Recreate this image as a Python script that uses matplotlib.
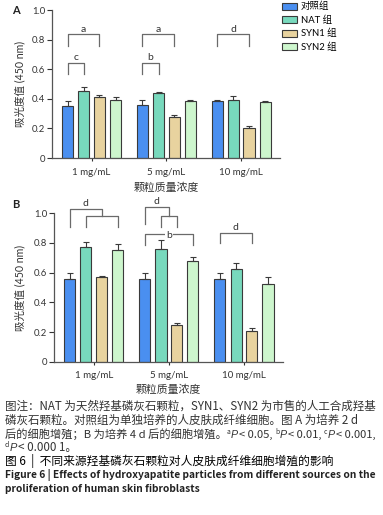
import matplotlib
matplotlib.use('Agg')
import matplotlib.pyplot as plt
import numpy as np

plt.rcParams['font.family'] = ['Lato', 'Noto Sans CJK SC', 'DejaVu Sans']

# ---------------- data ----------------
groups = ['1 mg/mL', '5 mg/mL', '10 mg/mL']
series = ['对照组', 'NAT 组', 'SYN1 组', 'SYN2 组']
colors = ['#4a8ff0', '#78d9bd', '#e8d39f', '#cdf6cd']

A_ctrl = [0.350, 0.355, 0.388]
A_nat = [0.454, 0.442, 0.395]
A_syn1 = [0.413, 0.278, 0.205]
A_syn2 = [0.390, 0.388, 0.380]
A_ctrl_err = [0.038, 0.034, 0.002]
A_nat_err = [0.028, 0.003, 0.024]
A_syn1_err = [0.015, 0.010, 0.009]
A_syn2_err = [0.020, 0.003, 0.004]

B_ctrl = [0.556, 0.556, 0.556]
B_nat = [0.771, 0.757, 0.627]
B_syn1 = [0.572, 0.250, 0.209]
B_syn2 = [0.755, 0.676, 0.521]
B_ctrl_err = [0.040, 0.040, 0.040]
B_nat_err = [0.036, 0.065, 0.036]
B_syn1_err = [0.008, 0.014, 0.016]
B_syn2_err = [0.036, 0.027, 0.047]

y_ticks = [0, 0.2, 0.4, 0.6, 0.8, 1.0]
y_ticklabels = ['0', '0.2', '0.4', '0.6', '0.8', '1.0']
y_label = '吸光度值 (450 nm)'
x_label = '颗粒质量浓度'

# significance brackets: (group, bar_i, bar_j, height, label)
A_brackets = [(0, 0, 2, 0.835, 'a'), (0, 0, 1, 0.643, 'c'),
              (1, 0, 2, 0.835, 'a'), (1, 0, 1, 0.643, 'b'),
              (2, 0, 2, 0.835, 'd')]
# nested brackets in B: (group, upper_from_bar, lower_i, lower_j, upper_y, lower_y, label)
B_nested = [(0, 0, 1, 3, 1.030, 0.984, 'd'),
            (1, 0, 1, 2, 1.045, 0.984, 'd')]
B_brackets = [(1, 0, 3, 0.858, 'b'), (2, 0, 2, 0.870, 'd')]

W, H = 383, 515
fig = plt.figure(figsize=(W / 100, H / 100), dpi=100)
fig.patch.set_facecolor('white')

offsets = [-0.32, -0.105, 0.105, 0.32]
width = 0.148
EDGE = '#3a3a3a'
BR = '#6a6a6a'


def draw_panel(ax, vals, errs):
    x = np.arange(len(groups))
    handles = []
    for i in range(4):
        h = ax.bar(x + offsets[i], vals[i], width, color=colors[i], edgecolor=EDGE,
                   linewidth=0.8, zorder=2, label=series[i])
        ax.errorbar(x + offsets[i], vals[i], yerr=[np.zeros(len(x)), errs[i]], fmt='none',
                    ecolor=EDGE, elinewidth=0.8, capsize=2.4, capthick=0.8, zorder=3)
        handles.append(h)
    ax.set_xlim(-0.53, 2.52)
    ax.set_ylim(0, 1.0)
    ax.set_yticks(y_ticks)
    ax.set_yticklabels(y_ticklabels)
    ax.set_xticks(x)
    ax.set_xticklabels(groups)
    for s in ['top', 'right']:
        ax.spines[s].set_visible(False)
    for s in ['left', 'bottom']:
        ax.spines[s].set_color('#555555')
        ax.spines[s].set_linewidth(0.9)
    ax.tick_params(axis='y', length=3.5, width=0.8, pad=1.2, labelsize=6.8, colors='#333333')
    ax.tick_params(axis='x', length=2.5, width=0.8, pad=4.5, labelsize=7.0, colors='#333333')
    ax.set_ylabel(y_label, fontsize=7.6, color='#333333')
    ax.set_xlabel(x_label, fontsize=7.8, color='#333333')
    return handles


def bar_x(g, i):
    return g + offsets[i]


def bracket(ax, x1, x2, y, y1, y2, label=None, gap=False):
    ax.plot([x1, x1, x2, x2], [y1, y, y, y2], color=BR, lw=0.9, clip_on=False, zorder=4)
    if label:
        if gap:
            ax.text((x1 + x2) / 2, y - 0.005, label, ha='center', va='center', fontsize=7.5,
                    color='#333333', clip_on=False, zorder=5,
                    bbox=dict(facecolor='white', edgecolor='none', pad=0.6))
        else:
            ax.text((x1 + x2) / 2, y + 0.016, label, ha='center', va='baseline', fontsize=7.5,
                    color='#333333', clip_on=False, zorder=5)


# ---------------- panel A ----------------
axA = fig.add_axes([52 / W, 1 - 158 / H, 228 / W, 148 / H])
hA = draw_panel(axA, [A_ctrl, A_nat, A_syn1, A_syn2],
                [A_ctrl_err, A_nat_err, A_syn1_err, A_syn2_err])
axA.yaxis.set_label_coords(-0.118, 0.5)
axA.xaxis.set_label_coords(0.5, -0.165)
for g, i, j, y, lab in A_brackets:
    bracket(axA, bar_x(g, i), bar_x(g, j), y, y - 0.078, y - 0.078, lab)

# ---------------- panel B ----------------
axB = fig.add_axes([54 / W, 1 - 361.7 / H, 229 / W, 148.4 / H])
draw_panel(axB, [B_ctrl, B_nat, B_syn1, B_syn2],
           [B_ctrl_err, B_nat_err, B_syn1_err, B_syn2_err])
axB.yaxis.set_label_coords(-0.125, 0.5)
axB.xaxis.set_label_coords(0.5, -0.15)
for g, u, li, lj, uy, ly, lab in B_nested:
    lx1, lx2 = bar_x(g, li), bar_x(g, lj)
    bracket(axB, lx1, lx2, ly, ly - 0.075, ly - 0.075)
    ux1, ux2 = bar_x(g, u), (lx1 + lx2) / 2
    bracket(axB, ux1, ux2, uy, uy - 0.12, ly, lab)
for g, i, j, y, lab in B_brackets:
    bracket(axB, bar_x(g, i), bar_x(g, j), y, y - 0.072, y - 0.072, lab, gap=(lab == 'b'))

# panel letters
fig.text(12 / W, 1 - 10 / H, 'A', fontsize=8, fontweight='bold', va='center', ha='left', color='#222222')
fig.text(12 / W, 1 - 205 / H, 'B', fontsize=8, fontweight='bold', va='center', ha='left', color='#222222')

# legend
fig.legend(handles=hA, labels=series, loc='upper left', bbox_to_anchor=(282 / W, 1 - 2 / H),
           frameon=False, prop={'family': ['Lato', 'Noto Sans CJK SC'], 'size': 6.8},
           handlelength=1.55, handleheight=0.75, labelspacing=0.42, handletextpad=0.45,
           borderpad=0, borderaxespad=0)

# ---------------- caption ----------------
renderer = fig.canvas.get_renderer()
CJK = ['Noto Sans CJK SC', 'DejaVu Sans']
CAP = '#333333'


def fit_size(text, target_px, **kw):
    t = fig.text(0, 0, text, fontsize=10, **kw)
    w = t.get_window_extent(renderer).width
    t.remove()
    return 10 * target_px / w


def seg_line(x_px, base_px, segs, max_w=None):
    scale = 1.0
    tries = 5
    for k in range(tries):
        x = x_px
        made = []
        for s in segs:
            kw = dict(s.get('kw', {}))
            kw['fontsize'] = kw['fontsize'] * scale
            x += s.get('pre', 0) * scale
            t = fig.text(x / W, 1 - (base_px - s.get('dy', 0) * scale) / H, s['t'],
                         ha='left', va='baseline', **kw)
            made.append(t)
            x += t.get_window_extent(renderer).width + s.get('post', 0) * scale
        total = x - x_px
        if max_w is None or total <= max_w or k == tries - 1:
            return
        for t in made:
            t.remove()
        scale *= (max_w / total) * 0.995


line1 = '图注：NAT 为天然羟基磷灰石颗粒，SYN1、SYN2 为市售的人工合成羟基'
fs = min(fit_size(line1, 372, family=CJK), 8.6)
base = dict(family=CJK, fontsize=fs, color=CAP)
sup = dict(family=CJK, fontsize=fs * 0.6, color=CAP)
ital = dict(family=['Liberation Sans'], style='italic', fontsize=fs * 0.95, color=CAP)

fig.text(5 / W, 1 - 410 / H, line1, ha='left', va='baseline', **base)
fig.text(5 / W, 1 - 424 / H, '磷灰石颗粒。对照组为单独培养的人皮肤成纤维细胞。图 A 为培养 2 d',
         ha='left', va='baseline', **base)
seg_line(5, 437.5, [
    {'t': '后的细胞增殖；B 为培养 4 d 后的细胞增殖。', 'kw': base},
    {'t': 'a', 'kw': sup, 'dy': 4},
    {'t': 'P', 'kw': ital, 'post': 1.5},
    {'t': '< 0.05,', 'kw': base, 'post': 2.5},
    {'t': 'b', 'kw': sup, 'dy': 4},
    {'t': 'P', 'kw': ital, 'post': 1.5},
    {'t': '< 0.01,', 'kw': base, 'post': 2.5},
    {'t': 'c', 'kw': sup, 'dy': 4},
    {'t': 'P', 'kw': ital, 'post': 1.5},
    {'t': '< 0.001,', 'kw': base},
], max_w=373)
seg_line(5, 451, [
    {'t': 'd', 'kw': sup, 'dy': 4},
    {'t': 'P', 'kw': ital, 'post': 1.5},
    {'t': '< 0.000 1。', 'kw': base},
])

title_cn = '图 6  |  不同来源羟基磷灰石颗粒对人皮肤成纤维细胞增殖的影响'
fig.text(5 / W, 1 - 464.5 / H, title_cn, ha='left', va='baseline', family=CJK,
         fontsize=fs * 1.02, fontweight='medium', color='#000000')

title_en1 = 'Figure 6 | Effects of hydroxyapatite particles from different sources on the'
fs_en = fit_size(title_en1, 372, family=CJK, fontweight='bold')
fig.text(5 / W, 1 - 478 / H, title_en1, ha='left', va='baseline', family=CJK,
         fontsize=fs_en, fontweight='bold', color='#222222')
fig.text(5 / W, 1 - 491.5 / H, 'proliferation of human skin fibroblasts', ha='left', va='baseline',
         family=CJK, fontsize=fs_en, fontweight='bold', color='#222222')

fig.savefig('out.png', dpi=100, facecolor='white')
